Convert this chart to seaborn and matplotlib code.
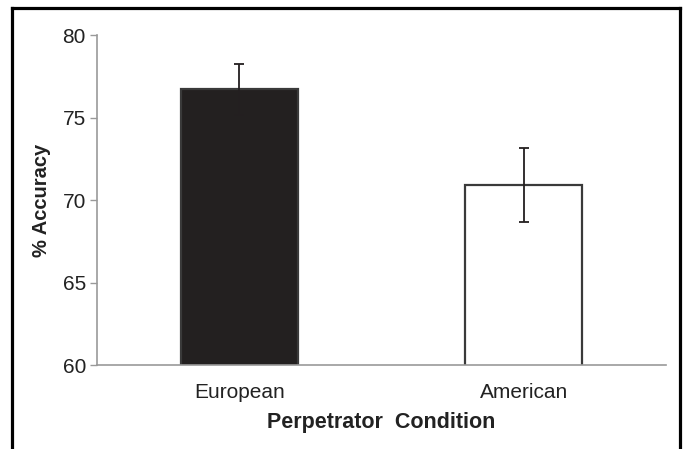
import matplotlib
matplotlib.use("Agg")
import matplotlib.pyplot as plt
import seaborn as sns
import pandas as pd
from matplotlib.lines import Line2D

categories = ["European", "American"]
accuracy = [76.7, 70.9]
errors = [1.55, 2.25]
bar_colors = ["#231f20", "#ffffff"]
y_ticks = [60, 65, 70, 75, 80]

sns.set_theme(style="white")
plt.rcParams["font.family"] = ["Liberation Sans", "DejaVu Sans"]

df = pd.DataFrame({"cond": categories, "acc": accuracy})

fig = plt.figure(figsize=(6.85, 4.49), dpi=100)
ax = fig.add_axes([0.1416, 0.187, 0.9723 - 0.1416, 0.922 - 0.187])

sns.barplot(data=df, x="cond", y="acc", hue="cond", palette=bar_colors,
            width=0.41, edgecolor="#3a3a3a", linewidth=1.6, errorbar=None,
            legend=False, ax=ax)
ax.errorbar(range(len(categories)), accuracy, yerr=errors, fmt="none",
            ecolor="#231f20", elinewidth=1.3, capsize=3.6, capthick=1.3)

ax.set_ylim(60, 80)
ax.set_xlim(-0.5, len(categories) - 0.5)
ax.set_yticks(y_ticks)
ax.set_yticklabels([str(t) for t in y_ticks], fontsize=15, color="#222222")
ax.set_xticks(range(len(categories)))
ax.set_xticklabels(categories, fontsize=15, color="#222222")
ax.set_xticks([-0.5 + i for i in range(len(categories) + 1)], minor=True)
ax.tick_params(axis="x", which="major", length=0, pad=13)
ax.tick_params(axis="x", which="minor", length=5, width=1, color="#999999", direction="out")
ax.tick_params(axis="y", length=5, width=1, color="#999999", direction="out", left=True, pad=3)

for s in ["top", "right"]:
    ax.spines[s].set_visible(False)
for s in ["left", "bottom"]:
    ax.spines[s].set_color("#999999")
    ax.spines[s].set_linewidth(1.2)

ax.set_xlabel("Perpetrator  Condition", fontsize=15.5, fontweight="bold", color="#222222", labelpad=7)
ax.set_ylabel("% Accuracy", fontsize=14.5, fontweight="bold", color="#222222", labelpad=8)

# outer frame (open at bottom)
fl, fr, ft = 12.5 / 685, 679.5 / 685, 1 - 7.5 / 449
for xs, ys in [([fl, fr], [ft, ft]), ([fl, fl], [0, ft]), ([fr, fr], [0, ft])]:
    fig.add_artist(Line2D(xs, ys, transform=fig.transFigure, color="black",
                          linewidth=2.3, solid_capstyle="projecting"))

fig.savefig("out.png", dpi=100)
